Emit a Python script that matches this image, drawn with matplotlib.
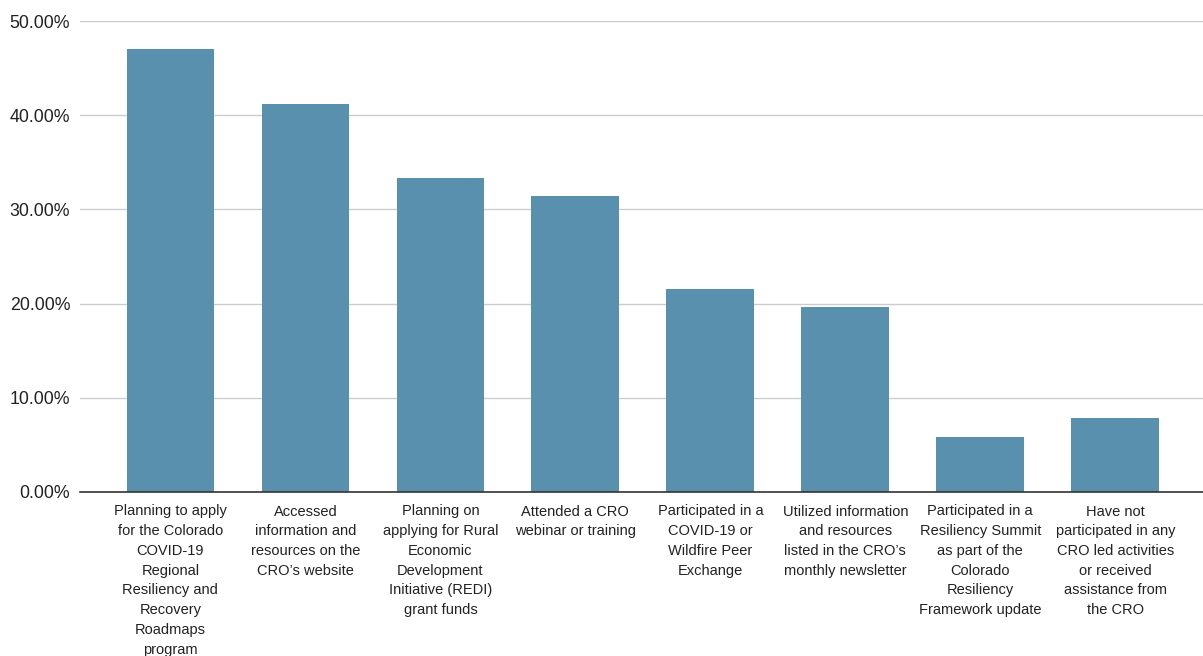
import matplotlib
matplotlib.use("Agg")
import matplotlib.pyplot as plt
from matplotlib.ticker import FuncFormatter

categories = [
    "Planning to apply\nfor the Colorado\nCOVID-19\nRegional\nResiliency and\nRecovery\nRoadmaps\nprogram",
    "Accessed\ninformation and\nresources on the\nCRO\u2019s website",
    "Planning on\napplying for Rural\nEconomic\nDevelopment\nInitiative (REDI)\ngrant funds",
    "Attended a CRO\nwebinar or training",
    "Participated in a\nCOVID-19 or\nWildfire Peer\nExchange",
    "Utilized information\nand resources\nlisted in the CRO\u2019s\nmonthly newsletter",
    "Participated in a\nResiliency Summit\nas part of the\nColorado\nResiliency\nFramework update",
    "Have not\nparticipated in any\nCRO led activities\nor received\nassistance from\nthe CRO",
]
values = [0.4706, 0.4118, 0.3333, 0.3137, 0.2157, 0.1961, 0.0588, 0.0784]
yticks = [0.0, 0.1, 0.2, 0.3, 0.4, 0.5]

plt.rcParams['font.family'] = ['Liberation Sans', 'DejaVu Sans']

W, H = 1203, 656
fig = plt.figure(figsize=(W / 100, H / 100), dpi=100)
left, right, top, bottom = 80, 1203, 21, 492
ax = fig.add_axes([left / W, (H - bottom) / H, (right - left) / W, (bottom - top) / H])

x = list(range(len(values)))
ax.bar(x, values, width=0.65, color='#5990ae', zorder=3)

ax.set_ylim(0, 0.5)
ax.set_xlim(-0.67, 7.65)
ax.set_yticks(yticks)
ax.yaxis.set_major_formatter(FuncFormatter(lambda v, p: f"{v*100:.2f}%"))
ax.grid(axis='y', color='#cccccc', linewidth=1.0, zorder=0)
for s in ['top', 'right', 'left']:
    ax.spines[s].set_visible(False)
ax.spines['bottom'].set_color('#333333')
ax.spines['bottom'].set_linewidth(1.2)
ax.spines['bottom'].set_zorder(4)
ax.tick_params(axis='y', length=0, pad=7, labelsize=12.8, labelcolor='#222222')
ax.tick_params(axis='x', length=0, pad=9, labelcolor='#222222')
ax.set_xticks(x)
ax.set_xticklabels(categories, fontsize=10.5, linespacing=1.52, va='top', ha='center')

fig.savefig("out.png", dpi=100, facecolor='white')
